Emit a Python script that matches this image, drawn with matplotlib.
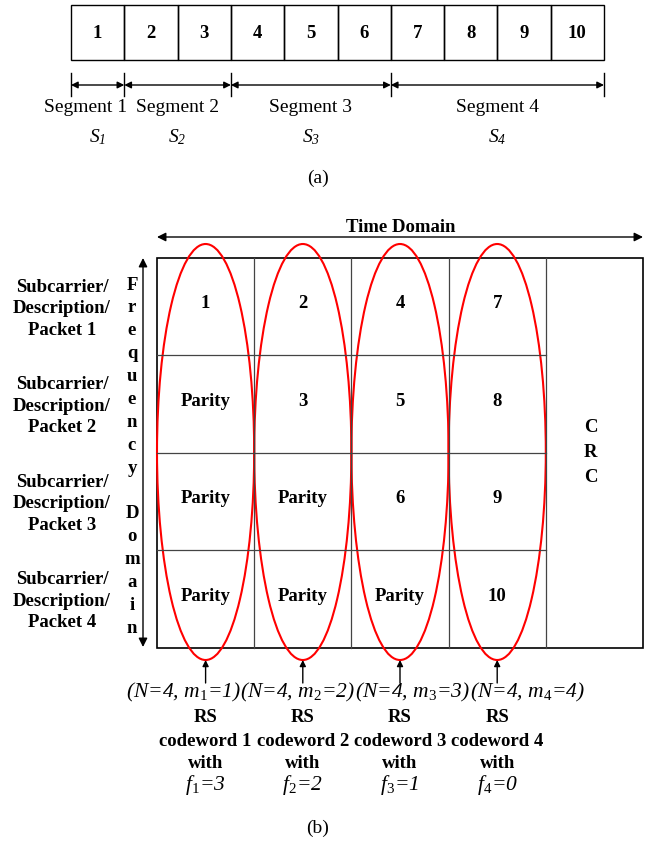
import matplotlib
matplotlib.use("Agg")
import matplotlib.pyplot as plt
from matplotlib.patches import Ellipse, Rectangle

# ---------------- data ----------------
top_cells = ["1", "2", "3", "4", "5", "6", "7", "8", "9", "10"]
segment_sizes = [1, 2, 3, 4]
segment_names = ["Segment 1", "Segment 2", "Segment 3", "Segment 4"]
segment_subs = ["1", "2", "3", "4"]

grid_cells = [["1", "2", "4", "7"],
              ["Parity", "3", "5", "8"],
              ["Parity", "Parity", "6", "9"],
              ["Parity", "Parity", "Parity", "10"]]
row_labels = ["Subcarrier/\nDescription/\nPacket 1",
              "Subcarrier/\nDescription/\nPacket 2",
              "Subcarrier/\nDescription/\nPacket 3",
              "Subcarrier/\nDescription/\nPacket 4"]
N_val = 4
m_vals = [1, 2, 3, 4]
f_vals = [3, 2, 1, 0]
freq_letters = list("Frequency") + [""] + list("Domain")

# ---------------- figure ----------------
plt.rcParams["font.family"] = ["Liberation Serif", "DejaVu Serif"]
plt.rcParams["mathtext.fontset"] = "custom"
plt.rcParams["mathtext.rm"] = "Liberation Serif"
plt.rcParams["mathtext.it"] = "Liberation Serif:italic"
plt.rcParams["mathtext.bf"] = "Liberation Serif:bold"
fig = plt.figure(figsize=(6.62, 8.46), dpi=100)
ax = fig.add_axes([0, 0, 1, 1])
ax.set_xlim(0, 662)
ax.set_ylim(846, 0)
ax.axis("off")

FS = 14
BFS = 13.5

# ---- part (a) ----
x0, x1 = 71, 604
ytop, ybot = 5, 60
cw = (x1 - x0) / len(top_cells)
for i, t in enumerate(top_cells):
    ax.add_patch(Rectangle((x0 + i * cw, ytop), cw, ybot - ytop, fill=False,
                           ec="black", lw=1.0))
    ax.text(x0 + (i + 0.5) * cw, (ytop + ybot) / 2 + 1, t, ha="center",
            va="center", fontsize=BFS, fontweight="bold")

ya = 85
bounds = [0]
for s in segment_sizes:
    bounds.append(bounds[-1] + s)
bx = [x0 + b * cw for b in bounds]
for b in bx:
    ax.plot([b, b], [73, 96], color="black", lw=1.0)
name_off = [-12, 0, 0, 0]
for i in range(len(segment_sizes)):
    ax.annotate("", xy=(bx[i + 1], ya), xytext=(bx[i], ya),
                arrowprops=dict(arrowstyle="<|-|>", color="black", lw=1.0,
                                mutation_scale=10, shrinkA=0, shrinkB=0))
    cx = (bx[i] + bx[i + 1]) / 2
    ax.text(cx + name_off[i], 108, segment_names[i], ha="center", va="center",
            fontsize=FS)
    ax.text(cx, 137, r"S$_{\mathregular{%s}}$" % segment_subs[i], ha="center",
            va="center", fontsize=FS, style="italic")
ax.text(318, 178, "(a)", ha="center", va="center", fontsize=FS)

# ---- part (b) ----
gx0, gx1 = 157, 643
gy0, gy1 = 258, 648
ncol = len(grid_cells[0])
colw = (gx1 - gx0) / (ncol + 1)
rowh = (gy1 - gy0) / len(grid_cells)

for c in range(1, ncol + 1):
    xx = gx0 + c * colw
    ax.plot([xx, xx], [gy0, gy1], color="#444444", lw=0.9)
for r in range(1, len(grid_cells)):
    yy = gy0 + r * rowh
    ax.plot([gx0, gx0 + ncol * colw], [yy, yy], color="#444444", lw=0.9)
ax.add_patch(Rectangle((gx0, gy0), gx1 - gx0, gy1 - gy0, fill=False,
                       ec="black", lw=1.2))

for r, row in enumerate(grid_cells):
    for c, t in enumerate(row):
        ax.text(gx0 + (c + 0.5) * colw, gy0 + (r + 0.5) * rowh - 3, t,
                ha="center", va="center", fontsize=BFS, fontweight="bold")

crc_x = gx0 + (ncol + 0.5) * colw - 4
for k, ch in enumerate("CRC"):
    ax.text(crc_x, 428 + k * 24.5, ch, ha="center", va="center",
            fontsize=BFS, fontweight="bold")

ax.annotate("", xy=(gx1, 237), xytext=(gx0, 237),
            arrowprops=dict(arrowstyle="<|-|>", color="black", lw=1.0,
                            mutation_scale=13, shrinkA=0, shrinkB=0))
ax.text(401, 227, "Time Domain", ha="center", va="center", fontsize=BFS,
        fontweight="bold")

ax.annotate("", xy=(143, 647), xytext=(143, 258),
            arrowprops=dict(arrowstyle="<|-|>", color="black", lw=1.0,
                            mutation_scale=13, shrinkA=0, shrinkB=0))
for k, ch in enumerate(freq_letters):
    if ch:
        ax.text(132, 285 + k * 22.9, ch, ha="center", va="center",
                fontsize=BFS, fontweight="bold")

for r, lab in enumerate(row_labels):
    ax.text(62, gy0 + (r + 0.5) * rowh + 2, lab, ha="center", va="center",
            fontsize=BFS, fontweight="bold", linespacing=1.36)

param_off = [-22, -5, 12, 30]
for c in range(ncol):
    cx = gx0 + (c + 0.5) * colw
    ax.add_patch(Ellipse((cx, 452), colw, 416, fill=False, ec="red", lw=1.5))
    ax.annotate("", xy=(cx, 660), xytext=(cx, 683),
                arrowprops=dict(arrowstyle="-|>", color="black", lw=1.0,
                                mutation_scale=9, shrinkA=0, shrinkB=0))
    ax.text(cx + param_off[c], 692,
            "(N=%d, m$_{%d}$=%d)" % (N_val, c + 1, m_vals[c]),
            ha="center", va="center", fontsize=15.5, style="italic")
    ax.text(cx, 718, "RS", ha="center", va="center", fontsize=BFS,
            fontweight="bold")
    ax.text(cx, 741, "codeword %d" % (c + 1), ha="center", va="center",
            fontsize=BFS, fontweight="bold")
    ax.text(cx, 764, "with", ha="center", va="center", fontsize=BFS,
            fontweight="bold")
    ax.text(cx, 785, "f$_{%d}$=%d" % (c + 1, f_vals[c]),
            ha="center", va="center", fontsize=15.5, style="italic")

ax.text(318, 828, "(b)", ha="center", va="center", fontsize=FS)

fig.savefig("out.png", dpi=100, facecolor="white")
